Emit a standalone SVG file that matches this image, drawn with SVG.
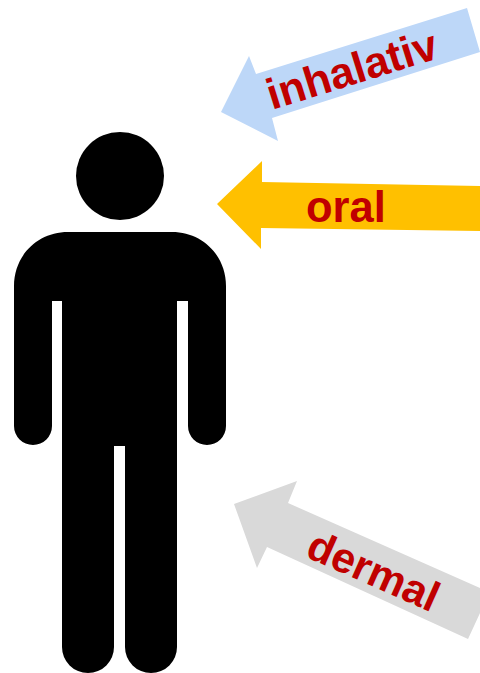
<svg xmlns="http://www.w3.org/2000/svg" width="480" height="673" viewBox="0 0 480 673">
<style>
.lbl{font-family:"Liberation Sans",Arial,sans-serif;font-weight:700;fill:#C00000}
</style>
<rect width="480" height="673" fill="#fff"/>
<g id="person">
<circle cx="120" cy="176" r="44" fill="#000"/>
<path fill="#000" d="M68 232H172C203 232 226 256 226 286V426A19 19 0 0 1 188 426V301H177V647A26 26 0 0 1 125 647V446H114V647A26 26 0 0 1 62 647V301H52V426A19 19 0 0 1 14 426V286C14 256 37 232 68 232Z"/>
</g>
<g id="connectors">
<g id="arrow-inhalativ">
<path fill="#BDD7F8" d="M221 112L249 56L256 74L467 8L480 52L272 118L278 141Z"/>
<text class="lbl" font-size="43.5" transform="translate(272 110) rotate(-17.3)">inhalativ</text>
</g>
<g id="arrow-oral">
<path fill="#FFC000" d="M217 204L262 161V182L480 186V231L261 228V249Z"/>
<text class="lbl" font-size="43.5" x="306" y="222">oral</text>
</g>
<g id="arrow-dermal">
<path fill="#D9D9D9" d="M234 504L297 481L288 503L480 588V613L468 639L267 547L257 568Z"/>
<text class="lbl" font-size="42.5" transform="translate(304 556) rotate(23.9)">dermal</text>
</g>
</g>
</svg>
